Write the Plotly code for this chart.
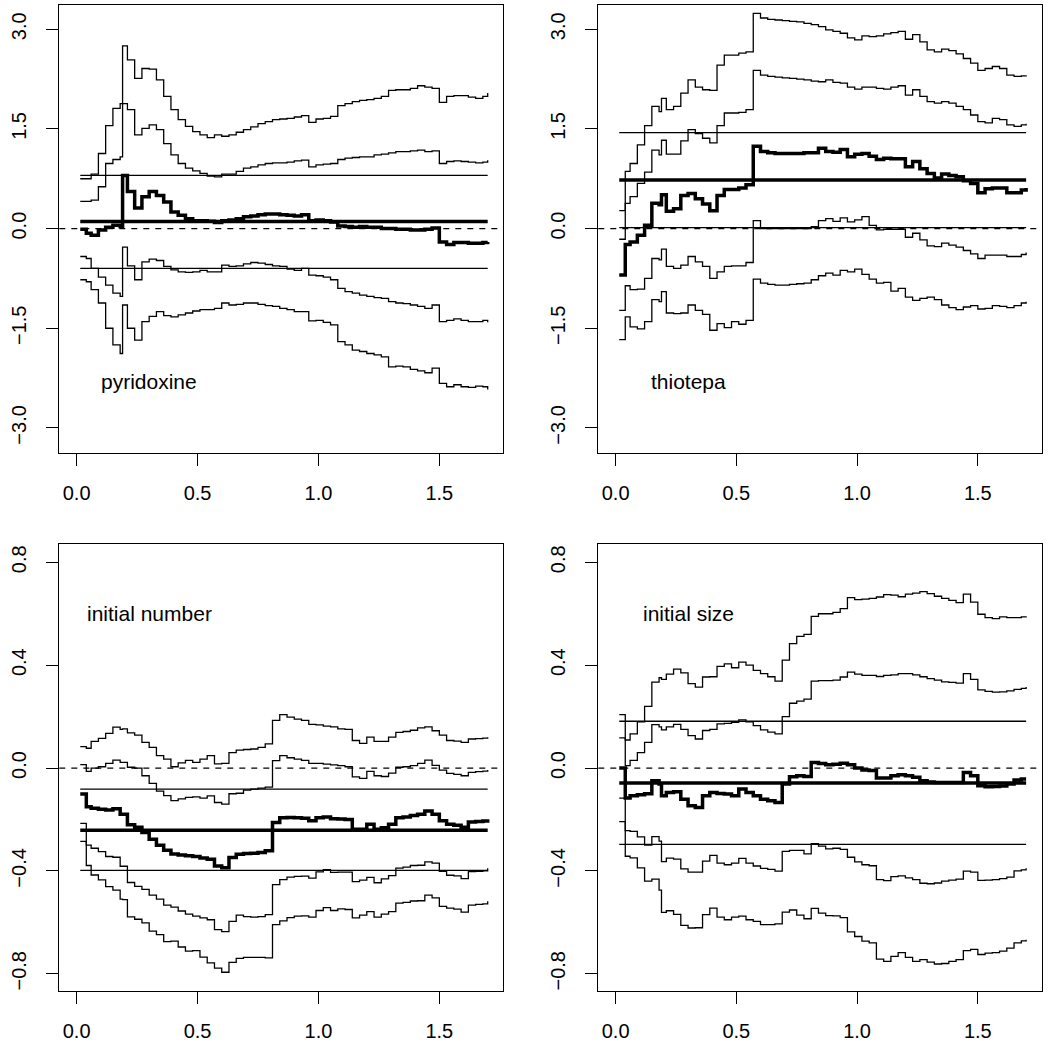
import plotly.graph_objects as go

# ---------------- data ----------------
times = [0.015, 0.04, 0.06, 0.09, 0.12, 0.15, 0.18, 0.19, 0.21, 0.24, 0.27, 0.30, 0.33,
         0.36, 0.39, 0.42, 0.45, 0.48, 0.51, 0.54, 0.57, 0.60, 0.63, 0.66, 0.69, 0.72,
         0.75, 0.78, 0.81, 0.84, 0.87, 0.90, 0.93, 0.96, 0.99, 1.02, 1.05, 1.08, 1.11,
         1.14, 1.17, 1.20, 1.23, 1.26, 1.29, 1.32, 1.35, 1.38, 1.41, 1.44, 1.47, 1.50,
         1.53, 1.56, 1.59, 1.62, 1.65, 1.68, 1.70]

# pyridoxine
pyr_outer_up = [0.75, 0.75, 0.82, 1.13, 1.55, 1.81, 1.88, 2.75, 2.54, 2.26, 2.41, 2.40, 2.24, 1.99, 1.79, 1.64, 1.54, 1.46, 1.41, 1.37, 1.41, 1.39, 1.41, 1.45, 1.49, 1.53, 1.58, 1.61, 1.64, 1.65, 1.66, 1.68, 1.70, 1.60, 1.65, 1.66, 1.69, 1.85, 1.88, 1.91, 1.93, 1.94, 1.96, 1.99, 2.08, 2.09, 2.09, 2.11, 2.15, 2.13, 2.11, 1.90, 1.99, 2.00, 2.00, 1.98, 1.96, 1.99, 2.04]
pyr_inner_up = [0.41, 0.41, 0.43, 0.63, 0.98, 1.04, 1.08, 1.88, 1.79, 1.41, 1.51, 1.56, 1.49, 1.28, 1.11, 0.98, 0.91, 0.87, 0.83, 0.79, 0.78, 0.82, 0.82, 0.86, 0.91, 0.93, 0.96, 0.98, 0.99, 0.99, 1.00, 1.02, 1.03, 0.93, 0.96, 0.97, 0.98, 1.04, 1.06, 1.07, 1.08, 1.08, 1.11, 1.12, 1.14, 1.16, 1.16, 1.17, 1.18, 1.16, 1.17, 0.98, 1.01, 1.02, 1.01, 1.00, 0.99, 1.00, 1.03]
pyr_center = [-0.01, -0.07, -0.10, -0.02, 0.02, 0.05, 0.03, 0.80, 0.56, 0.31, 0.48, 0.56, 0.50, 0.40, 0.25, 0.20, 0.15, 0.12, 0.12, 0.11, 0.09, 0.12, 0.13, 0.15, 0.18, 0.19, 0.21, 0.22, 0.22, 0.21, 0.20, 0.19, 0.21, 0.12, 0.13, 0.12, 0.10, 0.04, 0.03, 0.02, 0.03, 0.02, 0.02, 0.00, 0.00, -0.01, -0.01, -0.02, -0.02, -0.01, 0.01, -0.20, -0.24, -0.21, -0.21, -0.22, -0.22, -0.21, -0.20]
pyr_inner_lo = [-0.42, -0.45, -0.60, -0.73, -0.85, -0.97, -1.02, -0.28, -0.56, -0.77, -0.50, -0.46, -0.48, -0.57, -0.62, -0.65, -0.66, -0.65, -0.63, -0.65, -0.65, -0.55, -0.57, -0.56, -0.53, -0.51, -0.52, -0.54, -0.56, -0.57, -0.61, -0.63, -0.60, -0.70, -0.71, -0.73, -0.77, -0.90, -0.95, -0.97, -1.00, -1.02, -1.04, -1.05, -1.10, -1.12, -1.13, -1.15, -1.17, -1.20, -1.15, -1.40, -1.38, -1.36, -1.38, -1.40, -1.40, -1.38, -1.41]
pyr_outer_lo = [-0.77, -0.80, -0.92, -1.12, -1.50, -1.75, -1.88, -1.15, -1.50, -1.68, -1.40, -1.32, -1.25, -1.31, -1.33, -1.30, -1.27, -1.24, -1.22, -1.22, -1.20, -1.12, -1.15, -1.14, -1.12, -1.12, -1.14, -1.16, -1.17, -1.20, -1.22, -1.25, -1.25, -1.39, -1.38, -1.41, -1.45, -1.70, -1.75, -1.83, -1.85, -1.88, -1.90, -1.93, -2.08, -2.07, -2.08, -2.12, -2.14, -2.17, -2.10, -2.33, -2.38, -2.35, -2.38, -2.39, -2.37, -2.38, -2.42]
pyr_const = [0.105, -0.60, 0.80]   # estimate, lower, upper

# thiotepa
thio_outer_up = [0.27, 0.86, 0.98, 1.26, 1.55, 1.84, 1.76, 1.96, 1.79, 1.84, 2.04, 2.24, 2.13, 2.09, 2.08, 2.46, 2.61, 2.61, 2.64, 2.66, 3.24, 3.17, 3.15, 3.14, 3.13, 3.12, 3.11, 3.09, 3.07, 3.04, 2.99, 2.97, 2.94, 2.87, 2.84, 2.90, 2.89, 2.90, 2.93, 2.95, 2.97, 2.85, 2.92, 2.81, 2.69, 2.66, 2.70, 2.68, 2.63, 2.56, 2.49, 2.38, 2.41, 2.44, 2.41, 2.31, 2.29, 2.30, 2.31]
thio_inner_up = [-0.16, 0.38, 0.48, 0.68, 0.85, 1.18, 1.11, 1.33, 1.12, 1.12, 1.32, 1.49, 1.43, 1.36, 1.29, 1.55, 1.74, 1.74, 1.75, 1.79, 2.38, 2.31, 2.29, 2.28, 2.27, 2.26, 2.25, 2.24, 2.22, 2.21, 2.24, 2.20, 2.19, 2.13, 2.10, 2.13, 2.13, 2.11, 2.10, 2.13, 2.15, 2.01, 2.09, 1.99, 1.91, 1.89, 1.91, 1.89, 1.84, 1.79, 1.71, 1.61, 1.59, 1.66, 1.64, 1.56, 1.54, 1.56, 1.58]
thio_center = [-0.70, -0.24, -0.20, -0.10, 0.05, 0.38, 0.36, 0.51, 0.26, 0.30, 0.50, 0.53, 0.45, 0.37, 0.27, 0.50, 0.59, 0.59, 0.61, 0.66, 1.24, 1.16, 1.14, 1.13, 1.13, 1.13, 1.13, 1.14, 1.14, 1.21, 1.16, 1.15, 1.19, 1.08, 1.12, 1.13, 1.09, 1.04, 1.06, 1.05, 1.05, 0.93, 1.01, 0.90, 0.83, 0.76, 0.82, 0.80, 0.78, 0.72, 0.68, 0.54, 0.60, 0.61, 0.61, 0.54, 0.54, 0.58, 0.61]
thio_inner_lo = [-1.23, -0.86, -0.92, -0.91, -0.75, -0.45, -0.47, -0.31, -0.57, -0.60, -0.55, -0.42, -0.50, -0.57, -0.75, -0.65, -0.57, -0.56, -0.56, -0.51, 0.12, 0.00, 0.00, 0.00, 0.00, 0.00, 0.00, 0.00, 0.03, 0.12, 0.15, 0.11, 0.16, 0.10, 0.13, 0.18, 0.05, -0.02, -0.01, -0.01, -0.01, -0.13, -0.07, -0.17, -0.26, -0.27, -0.22, -0.25, -0.28, -0.33, -0.38, -0.45, -0.40, -0.40, -0.40, -0.42, -0.42, -0.39, -0.36]
thio_outer_lo = [-1.67, -1.33, -1.48, -1.51, -1.40, -1.07, -1.10, -0.95, -1.27, -1.28, -1.27, -1.15, -1.23, -1.29, -1.53, -1.43, -1.49, -1.40, -1.44, -1.38, -0.76, -0.82, -0.84, -0.85, -0.85, -0.84, -0.83, -0.82, -0.77, -0.71, -0.67, -0.70, -0.63, -0.65, -0.61, -0.69, -0.76, -0.82, -0.81, -0.94, -0.90, -1.03, -1.08, -1.05, -1.03, -1.07, -1.15, -1.19, -1.22, -1.18, -1.16, -1.21, -1.20, -1.16, -1.17, -1.19, -1.16, -1.12, -1.10]
thio_const = [0.73, 0.015, 1.445]

# initial number
num_outer_up = [0.083, 0.077, 0.104, 0.115, 0.135, 0.159, 0.150, 0.152, 0.137, 0.128, 0.100, 0.080, 0.048, 0.035, 0.005, 0.020, 0.030, 0.022, 0.035, 0.048, 0.016, 0.018, 0.060, 0.070, 0.072, 0.074, 0.080, 0.094, 0.185, 0.208, 0.198, 0.190, 0.185, 0.170, 0.168, 0.163, 0.160, 0.152, 0.150, 0.107, 0.096, 0.120, 0.104, 0.104, 0.120, 0.139, 0.142, 0.147, 0.156, 0.160, 0.145, 0.128, 0.107, 0.105, 0.100, 0.113, 0.114, 0.116, 0.120]
num_inner_up = [0.013, -0.013, 0.000, 0.005, 0.018, 0.031, 0.022, 0.022, 0.003, 0.000, -0.030, -0.060, -0.090, -0.107, -0.127, -0.120, -0.114, -0.112, -0.117, -0.108, -0.134, -0.140, -0.100, -0.098, -0.086, -0.082, -0.078, -0.074, 0.029, 0.048, 0.040, 0.035, 0.030, 0.018, 0.018, 0.015, 0.012, 0.009, 0.005, -0.034, -0.040, -0.013, -0.030, -0.033, -0.020, 0.003, 0.005, 0.009, 0.018, 0.031, 0.010, -0.008, -0.021, -0.025, -0.030, -0.017, -0.014, -0.012, -0.008]
num_center = [-0.101, -0.151, -0.156, -0.160, -0.163, -0.158, -0.180, -0.180, -0.221, -0.230, -0.251, -0.277, -0.300, -0.320, -0.334, -0.338, -0.341, -0.344, -0.350, -0.355, -0.381, -0.388, -0.348, -0.335, -0.332, -0.331, -0.328, -0.322, -0.212, -0.193, -0.192, -0.193, -0.195, -0.205, -0.193, -0.190, -0.197, -0.198, -0.200, -0.238, -0.238, -0.219, -0.238, -0.232, -0.219, -0.193, -0.190, -0.185, -0.180, -0.167, -0.180, -0.205, -0.219, -0.222, -0.230, -0.210, -0.208, -0.206, -0.199]
num_inner_lo = [-0.215, -0.300, -0.312, -0.325, -0.344, -0.347, -0.382, -0.382, -0.445, -0.460, -0.472, -0.494, -0.510, -0.533, -0.541, -0.556, -0.568, -0.576, -0.583, -0.590, -0.628, -0.636, -0.596, -0.572, -0.578, -0.580, -0.578, -0.570, -0.453, -0.434, -0.424, -0.421, -0.420, -0.428, -0.404, -0.395, -0.406, -0.405, -0.405, -0.442, -0.436, -0.425, -0.446, -0.431, -0.418, -0.389, -0.385, -0.379, -0.378, -0.365, -0.370, -0.402, -0.417, -0.419, -0.430, -0.403, -0.402, -0.400, -0.390]
num_outer_lo = [-0.285, -0.379, -0.416, -0.435, -0.461, -0.475, -0.510, -0.512, -0.579, -0.588, -0.602, -0.634, -0.648, -0.675, -0.673, -0.696, -0.712, -0.710, -0.735, -0.758, -0.778, -0.794, -0.756, -0.740, -0.736, -0.736, -0.736, -0.738, -0.609, -0.594, -0.582, -0.576, -0.575, -0.580, -0.554, -0.543, -0.554, -0.548, -0.550, -0.583, -0.572, -0.558, -0.580, -0.568, -0.558, -0.525, -0.522, -0.517, -0.516, -0.494, -0.505, -0.538, -0.545, -0.549, -0.560, -0.533, -0.530, -0.528, -0.518]
num_const = [-0.242, -0.398, -0.082]

# initial size
size_outer_up = [0.208, 0.109, 0.133, 0.180, 0.240, 0.334, 0.351, 0.345, 0.365, 0.385, 0.370, 0.328, 0.315, 0.354, 0.355, 0.395, 0.405, 0.390, 0.412, 0.400, 0.380, 0.367, 0.355, 0.338, 0.420, 0.484, 0.512, 0.520, 0.590, 0.600, 0.600, 0.605, 0.620, 0.663, 0.655, 0.657, 0.660, 0.665, 0.674, 0.672, 0.666, 0.676, 0.680, 0.686, 0.678, 0.668, 0.660, 0.652, 0.643, 0.676, 0.645, 0.598, 0.585, 0.581, 0.588, 0.585, 0.585, 0.588, 0.590]
size_inner_up = [0.117, 0.009, 0.030, 0.060, 0.100, 0.169, 0.160, 0.148, 0.160, 0.170, 0.150, 0.126, 0.113, 0.146, 0.150, 0.172, 0.174, 0.178, 0.187, 0.180, 0.165, 0.148, 0.140, 0.133, 0.200, 0.252, 0.260, 0.268, 0.338, 0.340, 0.340, 0.342, 0.354, 0.373, 0.365, 0.360, 0.360, 0.356, 0.360, 0.362, 0.367, 0.367, 0.362, 0.355, 0.348, 0.342, 0.335, 0.333, 0.330, 0.367, 0.345, 0.304, 0.298, 0.295, 0.296, 0.300, 0.306, 0.310, 0.315]
size_center = [0.000, -0.117, -0.108, -0.104, -0.100, -0.049, -0.062, -0.108, -0.095, -0.092, -0.121, -0.147, -0.153, -0.108, -0.095, -0.099, -0.101, -0.108, -0.082, -0.095, -0.108, -0.121, -0.127, -0.134, -0.062, -0.034, -0.030, -0.033, 0.022, 0.018, 0.013, 0.015, 0.019, 0.013, 0.000, -0.008, -0.010, -0.039, -0.039, -0.030, -0.026, -0.030, -0.036, -0.049, -0.054, -0.056, -0.056, -0.056, -0.056, -0.017, -0.030, -0.069, -0.073, -0.072, -0.070, -0.062, -0.047, -0.043, -0.043]
size_inner_lo = [-0.117, -0.243, -0.246, -0.268, -0.300, -0.267, -0.284, -0.364, -0.350, -0.354, -0.392, -0.405, -0.405, -0.362, -0.340, -0.370, -0.376, -0.370, -0.351, -0.370, -0.381, -0.390, -0.394, -0.401, -0.324, -0.320, -0.320, -0.334, -0.294, -0.304, -0.314, -0.312, -0.316, -0.347, -0.365, -0.376, -0.380, -0.434, -0.438, -0.422, -0.419, -0.427, -0.434, -0.448, -0.450, -0.447, -0.440, -0.436, -0.432, -0.401, -0.405, -0.437, -0.436, -0.434, -0.430, -0.424, -0.400, -0.396, -0.390]
size_outer_lo = [-0.208, -0.343, -0.349, -0.388, -0.440, -0.432, -0.475, -0.561, -0.555, -0.569, -0.612, -0.622, -0.621, -0.570, -0.545, -0.580, -0.590, -0.580, -0.576, -0.590, -0.596, -0.609, -0.609, -0.606, -0.560, -0.552, -0.572, -0.586, -0.546, -0.564, -0.574, -0.575, -0.582, -0.637, -0.655, -0.673, -0.680, -0.743, -0.752, -0.732, -0.718, -0.736, -0.752, -0.745, -0.755, -0.762, -0.760, -0.752, -0.745, -0.710, -0.705, -0.725, -0.720, -0.718, -0.712, -0.700, -0.680, -0.672, -0.668]
size_const = [-0.0585, -0.297, 0.182]

panel_labels = ["pyridoxine", "thiotepa", "initial number", "initial size"]
label_x = [0.3, 0.3, 0.3, 0.3]
label_y = [-2.3, -2.3, 0.6, 0.6]

x_ticks = [0.0, 0.5, 1.0, 1.5]
top_y_ticks = [-3.0, -1.5, 0.0, 1.5, 3.0]
bottom_y_ticks = [-0.8, -0.4, 0.0, 0.4, 0.8]

# ---------------- layout geometry ----------------
W, H = 1050, 1044
x_domains = [[59.3 / W, 503.3 / W], [598.3 / W, 1041.7 / W]]
y_domains = [[1 - 452.5 / H, 1 - 4.7 / H], [1 - 991.0 / H, 1 - 544.3 / H]]
x_range = [-0.0717, 1.7645]
top_y_range = [-3.37, 3.37]
bottom_y_range = [-0.867, 0.870]

FONT = "Liberation Sans, Arial, Helvetica, sans-serif"
THIN = 1.3
THICK = 3.5
BLACK = "#000000"

panels = [
    dict(bands=[pyr_outer_up, pyr_inner_up, pyr_inner_lo, pyr_outer_lo], center=pyr_center,
         const=pyr_const, col=0, row=0, yr=top_y_range, yt=top_y_ticks),
    dict(bands=[thio_outer_up, thio_inner_up, thio_inner_lo, thio_outer_lo], center=thio_center,
         const=thio_const, col=1, row=0, yr=top_y_range, yt=top_y_ticks),
    dict(bands=[num_outer_up, num_inner_up, num_inner_lo, num_outer_lo], center=num_center,
         const=num_const, col=0, row=1, yr=bottom_y_range, yt=bottom_y_ticks),
    dict(bands=[size_outer_up, size_inner_up, size_inner_lo, size_outer_lo], center=size_center,
         const=size_const, col=1, row=1, yr=bottom_y_range, yt=bottom_y_ticks),
]

fig = go.Figure()
layout = dict(width=W, height=H, autosize=False, showlegend=False,
              margin=dict(l=0, r=0, t=0, b=0),
              paper_bgcolor="white", plot_bgcolor="white",
              font=dict(family=FONT, size=20, color=BLACK))
shapes = []
annotations = []

for i, p in enumerate(panels):
    n = i + 1
    xa = "x" if n == 1 else f"x{n}"
    ya = "y" if n == 1 else f"y{n}"
    for band in p["bands"]:
        fig.add_trace(go.Scatter(x=times, y=band, mode="lines", line_shape="hv",
                                 line=dict(color=BLACK, width=THIN),
                                 xaxis=xa, yaxis=ya, hoverinfo="skip"))
    est, lo, hi = p["const"]
    for val, w in ((lo, THIN), (hi, THIN), (est, THICK)):
        fig.add_trace(go.Scatter(x=[times[0], times[-1]], y=[val, val], mode="lines",
                                 line=dict(color=BLACK, width=w),
                                 xaxis=xa, yaxis=ya, hoverinfo="skip"))
    fig.add_trace(go.Scatter(x=times, y=p["center"], mode="lines", line_shape="hv",
                             line=dict(color=BLACK, width=THICK),
                             xaxis=xa, yaxis=ya, hoverinfo="skip"))

    shapes.append(dict(type="line", xref=f"{xa} domain", yref=ya, x0=0, x1=1, y0=0, y1=0,
                       line=dict(color=BLACK, width=THIN, dash="6px,6px")))
    annotations.append(dict(x=label_x[i], y=label_y[i], xref=xa, yref=ya,
                            text=panel_labels[i], showarrow=False,
                            xanchor="center", yanchor="middle",
                            font=dict(family=FONT, size=21, color=BLACK)))

    common = dict(showline=True, mirror=True, linecolor=BLACK, linewidth=THIN,
                  ticks="outside", ticklen=12, tickwidth=THIN, tickcolor=BLACK,
                  showgrid=False, zeroline=False, tickformat=".1f",
                  tickfont=dict(family=FONT, size=20, color=BLACK))
    layout["xaxis" if n == 1 else f"xaxis{n}"] = dict(
        domain=x_domains[p["col"]], anchor=ya, range=x_range,
        tickmode="array", tickvals=x_ticks, ticklabelstandoff=10, **common)
    layout["yaxis" if n == 1 else f"yaxis{n}"] = dict(
        domain=y_domains[p["row"]], anchor=xa, range=p["yr"],
        tickmode="array", tickvals=p["yt"], tickangle=-90, ticklabelstandoff=12, **common)

layout["shapes"] = shapes
layout["annotations"] = annotations
fig.update_layout(**layout)
fig.write_html("out.html", config={"displayModeBar": False},
               post_script="document.body.style.margin='0';document.body.style.overflow='hidden';")
